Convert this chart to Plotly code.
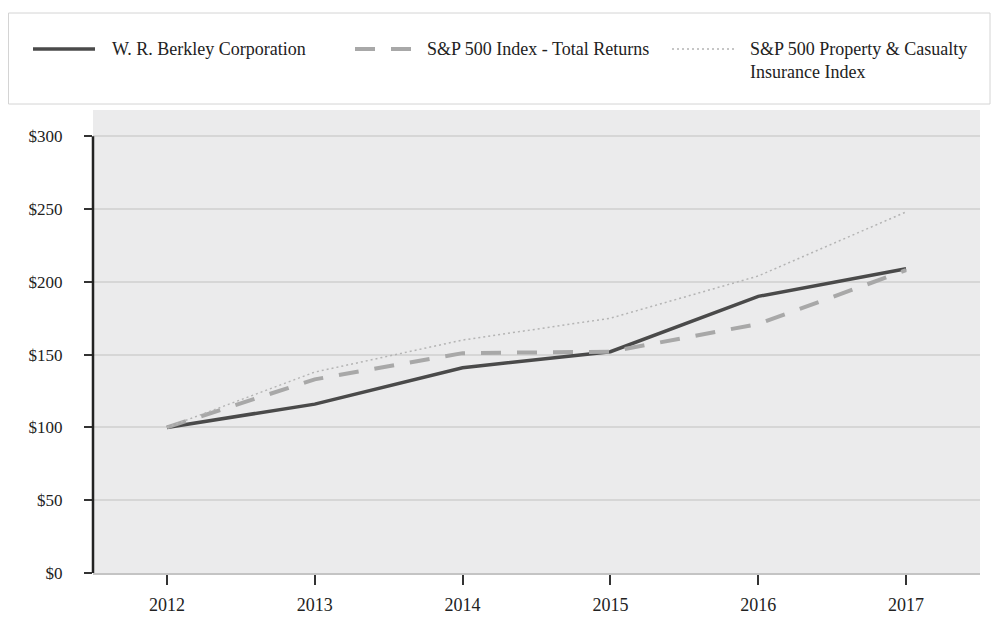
import plotly.graph_objects as go

years = [2012, 2013, 2014, 2015, 2016, 2017]
berkley = [100, 116, 141, 152, 190, 209]
sp500 = [100, 133, 151, 152, 171, 208]
pc_index = [100, 138, 160, 175, 204, 248]
y_ticks = [0, 50, 100, 150, 200, 250, 300]
y_tick_labels = ["$0", "$50", "$100", "$150", "$200", "$250", "$300"]

names = ["W. R. Berkley Corporation", "S&P 500 Index - Total Returns",
         "S&P 500 Property & Casualty<br>Insurance Index"]

OFF = 8  # page body margin
W, H = 1001 - OFF, 617 - OFF
L, R, T, B = 93 - OFF, 21, 110 - OFF, 44
PW, PH = W - L - R, H - T - B

def px(x):
    return (x - OFF - L) / PW

def py(y):
    return (H + OFF - B - y) / PH

FONT = "Liberation Serif, Times New Roman, serif"
styles = [
    dict(color="#4a4a4a", width=3.5, dash="solid"),
    dict(color="#a8a8a8", width=4, dash="20px,16px"),
    dict(color="#b4b4b4", width=1.5, dash="2px,3px"),
]

fig = go.Figure()
for vals, nm, st in zip([berkley, sp500, pc_index], names, styles):
    fig.add_trace(go.Scatter(x=years, y=vals, mode="lines", name=nm,
                             line=st, showlegend=False))

shapes = []
annotations = []
# legend box
shapes.append(dict(type="rect", xref="paper", yref="paper",
                   x0=px(8.5), x1=px(990), y0=py(104), y1=py(13),
                   line=dict(color="#d4d4d4", width=1), fillcolor="white", layer="below"))
legend_items = [(33, 95, 110), (355, 412, 425), (672, 735, 748)]
for (x0, x1, tx), nm, st in zip(legend_items, names, styles):
    shapes.append(dict(type="line", xref="paper", yref="paper",
                       x0=px(x0), x1=px(x1), y0=py(49), y1=py(49),
                       line=dict(color=st["color"], width=st["width"], dash=st["dash"])))
    if "<br>" in nm:
        annotations.append(dict(xref="paper", yref="paper", x=px(tx), y=py(37),
                                xanchor="left", yanchor="top", align="left",
                                text=nm, showarrow=False,
                                font=dict(family=FONT, size=18, color="#222")))
    else:
        annotations.append(dict(xref="paper", yref="paper", x=px(tx), y=py(49),
                                xanchor="left", yanchor="middle",
                                text=nm, showarrow=False,
                                font=dict(family=FONT, size=18, color="#222")))
# left axis line (only up to $300)
shapes.append(dict(type="line", xref="paper", yref="y", x0=0, x1=0, y0=0, y1=300,
                   line=dict(color="#222", width=2.5)))

fig.update_layout(
    width=W, height=H,
    margin=dict(l=L, r=R, t=T, b=B, autoexpand=False),
    paper_bgcolor="white",
    plot_bgcolor="#ebebec",
    shapes=shapes,
    annotations=annotations,
    font=dict(family=FONT, size=17, color="#222"),
    xaxis=dict(range=[2011.5, 2017.5], tickvals=years, ticktext=[str(y) for y in years],
               showgrid=False, zeroline=False, showline=True, linecolor="#c4c4c4",
               linewidth=2, ticks="outside", ticklen=10, tickcolor="#333", tickwidth=1.5,
               automargin=False,
               ticklabelstandoff=4, tickfont=dict(family=FONT, size=18, color="#222")),
    yaxis=dict(range=[0, 318], tickvals=y_ticks, ticktext=y_tick_labels,
               showgrid=True, gridcolor="#d6d6d6", gridwidth=1.5, zeroline=False,
               automargin=False,
               showline=False, ticks="outside", ticklen=8, tickcolor="#333", tickwidth=1.5,
               ticklabelstandoff=18, tickfont=dict(family=FONT, size=17, color="#222")),
)

fig.write_html("out.html")
